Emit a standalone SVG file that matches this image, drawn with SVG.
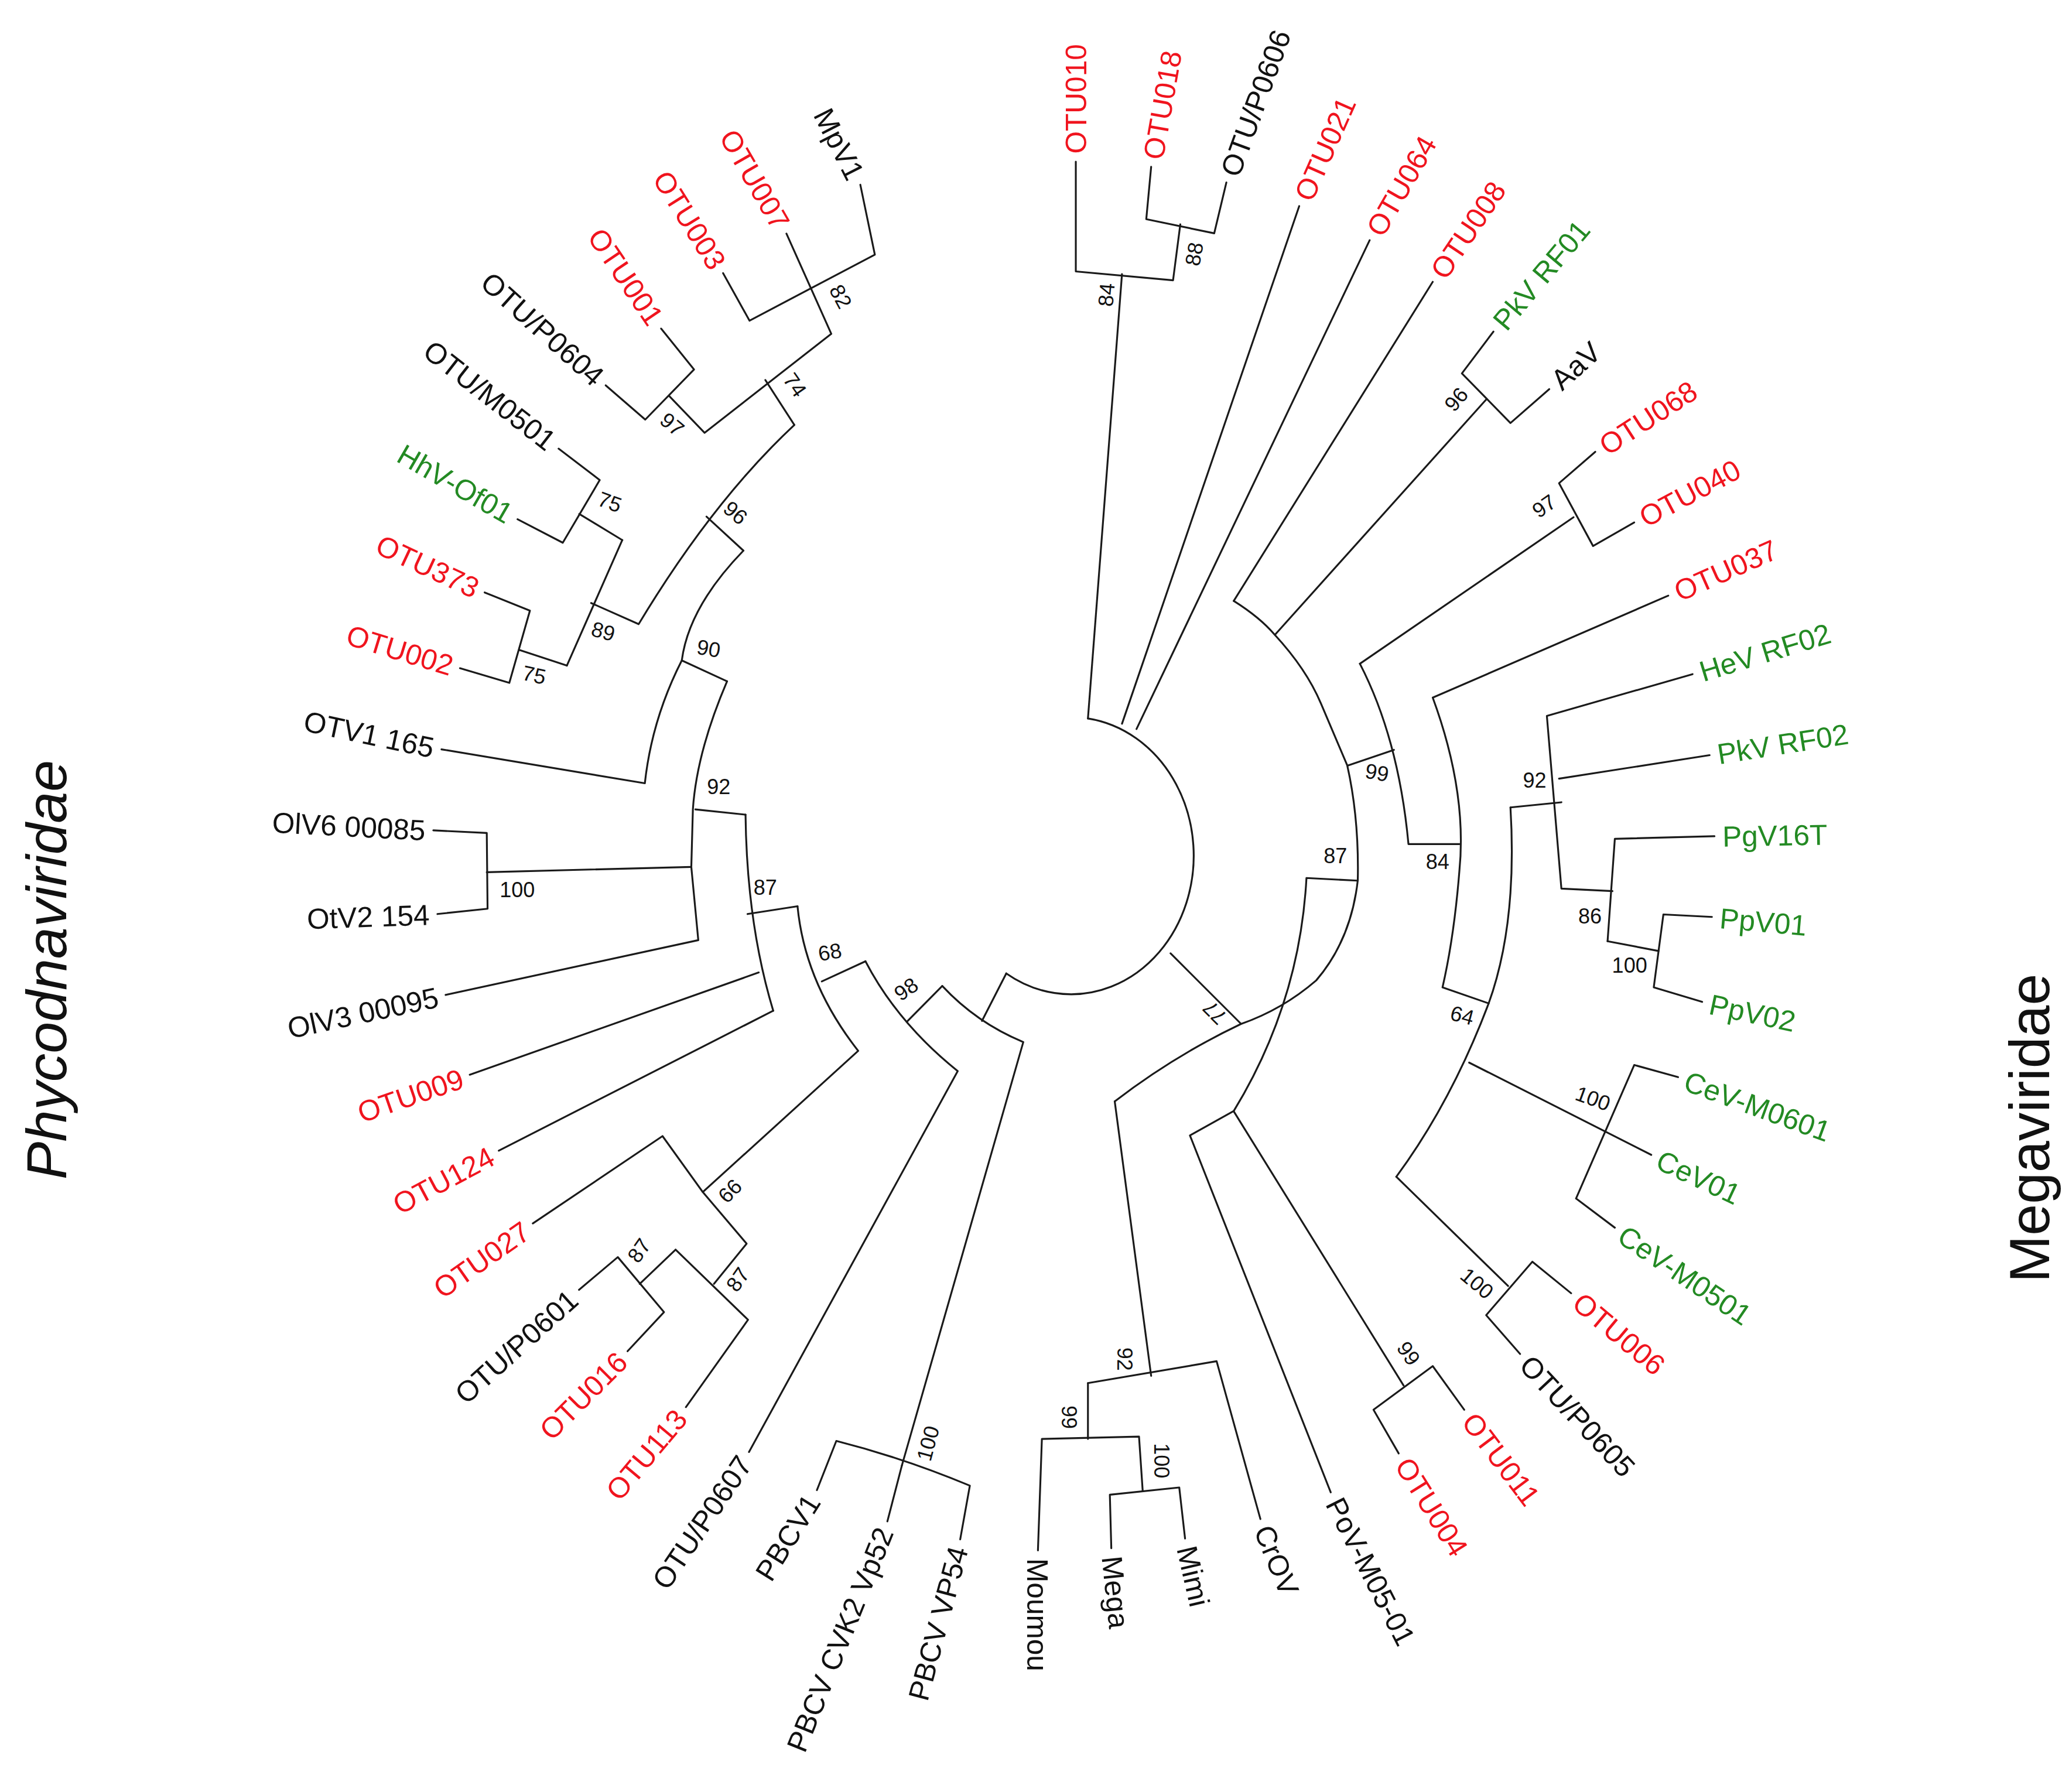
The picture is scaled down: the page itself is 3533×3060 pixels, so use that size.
<svg xmlns="http://www.w3.org/2000/svg" width="3533" height="3060" viewBox="0 0 3533 3060">
<style>
.e{fill:none;stroke:#1a1a1a;stroke-width:1.4;stroke-linejoin:round;stroke-linecap:round}
text{font-family:"Liberation Sans",Arial,sans-serif}
.l{font-size:22px}
.r{fill:#f0141e}.g{fill:#238a23}.k{fill:#111}
.b{font-size:16px;fill:#111;text-anchor:middle}
.s{text-anchor:start}.n{text-anchor:end}
.f{font-size:43px;fill:#111;text-anchor:middle}
</style>
<rect width="3533" height="3060" fill="#fff"/>
<g transform="scale(2.2532)">
<g id="connectors" class="e">
<path d="M824.5,544.5 A93,105 0 1 1 762.6,737.7"/>
<path d="M815.3,122.5 L815.3,205.7 L889,212.4 L894.5,170"/>
<path d="M850.3,207.7 L824.5,544.5"/>
<path d="M872.4,126.4 L868.7,166.1 L920.2,176.8 L929.4,138.3"/>
<path d="M984.6,156.2 L850.3,548.5"/>
<path d="M1038,182 L861.3,552.5"/>
<path d="M1085.8,213.6 L935,455.4"/>
<path d="M1126.3,302.8 L966.2,481.1"/>
<path d="M1131.8,251.3 L1107.9,283 L1144.7,320.6 L1174.1,294.9"/>
<path d="M935,455.4 Q955,468 966,481 Q990,507 1001,533 L1021,580 Q1030,620 1029,667 Q1024,712 997.5,743 Q972,765 940.5,776 Q890,800 844.8,834.7"/>
<path d="M887.1,722.5 L940.5,775.9"/>
<path d="M1021.4,580.2 L1056.4,568.3"/>
<path d="M1030.6,503 Q1060,560 1067.4,639.7 L1106,639.7"/>
<path d="M1030.6,503 L1192.5,392"/>
<path d="M1209,342.4 L1181.5,366.2 L1207.3,413.8 L1238.5,395.9"/>
<path d="M1264.3,451.4 L1085.8,528.7 Q1112,600 1106,660 Q1102,710 1093.2,748.3 L1128.2,760.4"/>
<path d="M1144.7,611.9 Q1150,700 1128.2,760.4 Q1100,835 1058.2,891.8"/>
<path d="M1144.7,611.9 L1183.3,608"/>
<path d="M1282.7,510.9 L1172.3,542.6 L1183.3,673.4 L1222,675.3"/>
<path d="M1295.6,572.3 L1181.5,590.1"/>
<path d="M1299.3,633.7 L1223.8,635.7 L1218.3,713.3"/>
<path d="M1218.3,713.3 L1256.9,720.7"/>
<path d="M1297.4,694.9 L1260.6,693 L1253.3,748.3 L1290,759.3"/>
<path d="M1113.4,805.3 L1251.4,875.2"/>
<path d="M1271.7,816.3 L1238.5,807.1 L1194.4,908.3 L1223.8,930.4"/>
<path d="M1058.2,891.8 L1142.9,974.6"/>
<path d="M1190.7,980.1 L1161.3,956.2 L1126.3,996.7 L1152,1026.1"/>
<path d="M1028.8,667.4 L990.1,665.4 Q985,760 935,842 L901.8,860.5 L1008.5,1131"/>
<path d="M934.9,842.1 L1063.7,1050"/>
<path d="M1060,1101.5 L1040.9,1068.4 L1085.8,1035.3 L1109.7,1068.4"/>
<path d="M844.8,834.7 L872.4,1042.7"/>
<path d="M824.5,1048.2 L922,1031.6 L955.2,1151.2"/>
<path d="M824.5,1048.2 L824.5,1090.5"/>
<path d="M786.6,1175 L789.6,1090.5 L863.2,1088.7 L866,1130"/>
<path d="M842.2,1173.3 L841.1,1132.8 L893.7,1127.3 L898.1,1166"/>
<path d="M762.6,737.7 L744.2,773.7"/>
<path d="M714.1,747.2 Q740,775 775.5,789.7 L683.5,1110.6"/>
<path d="M619.1,1129.3 L633.8,1092 Q685,1105 735,1125.9 L727.7,1166.6"/>
<path d="M672.5,1153 L683.5,1110.6"/>
<path d="M655.9,728.5 Q680,775 725.8,811.7 L567.6,1100.4"/>
<path d="M687.2,774.4 L714.1,747.2"/>
<path d="M604.4,686.8 Q610,745 650.4,796.4 L532.6,903.4"/>
<path d="M622.8,743.8 L655.9,728.5"/>
<path d="M565,617.4 Q566,700 586,766"/>
<path d="M566.5,692.7 L604.4,686.8"/>
<path d="M356,814.5 L575,737"/>
<path d="M378,872 L586,766"/>
<path d="M403.8,927.2 L502.1,861 L532.6,903.4 L565.8,942.5 L541.1,973"/>
<path d="M519.8,1066.4 L566.9,1000.2 L512,947 L484.8,973"/>
<path d="M438.8,977.5 L468.2,952.7 L503.2,994.4 L475.6,1024"/>
<path d="M527,613.4 L565,617.4"/>
<path d="M551,516.3 Q528,570 525.1,613.4 L523.9,657 L529.2,712.5 L337.7,754"/>
<path d="M523.9,657 L368.9,661"/>
<path d="M328.4,629.3 L368.9,631.3 L369.5,688.7 L331.5,692.7"/>
<path d="M516.7,500.5 L551,516.3"/>
<path d="M563.4,417.3 Q522,460 516.7,500.5 Q494,545 488.7,593.6 L334.6,567.9"/>
<path d="M535.4,391.5 L563.4,417.3"/>
<path d="M602,322 Q540,380 484,473 L448,457"/>
<path d="M580,288 L602,322"/>
<path d="M471.6,409.3 L429.6,504.4"/>
<path d="M471.6,409.3 L439,389.5"/>
<path d="M423.3,340 L454.5,363.8 L426.5,411.3 L392.2,393.5"/>
<path d="M367.3,449 L401.6,462.8 L386,517.5 L348.6,506.4"/>
<path d="M393.8,492.6 L429.6,504.4"/>
<path d="M501,249 L526,280 L489,318 L459,292"/>
<path d="M507,300 L534,328 L630,253 L596,177"/>
<path d="M652,140 L663,193 L568,243 L548,207"/>
</g>
<g id="leaves" class="l">
<g id="n-OTU010"><text class="s r" transform="translate(815.3,122.5) rotate(-90)" x="6" y="8">OTU010</text></g>
<g id="n-OTU018"><text class="s r" transform="translate(872.4,126.4) rotate(-80)" x="6" y="8">OTU018</text></g>
<g id="n-OTUP0606"><text class="s k" transform="translate(929.4,138.3) rotate(-70)" x="6" y="8">OTU/P0606</text></g>
<g id="n-OTU021"><text class="s r" transform="translate(984.6,156.2) rotate(-66)" x="6" y="8">OTU021</text></g>
<g id="n-OTU064"><text class="s r" transform="translate(1038,182) rotate(-60)" x="6" y="8">OTU064</text></g>
<g id="n-OTU008"><text class="s r" transform="translate(1085.8,213.6) rotate(-56)" x="6" y="8">OTU008</text></g>
<g id="n-PkVRF01"><text class="s g" transform="translate(1131.8,251.3) rotate(-50)" x="6" y="8">PkV RF01</text></g>
<g id="n-AaV"><text class="s k" transform="translate(1174.1,294.9) rotate(-42)" x="6" y="8">AaV</text></g>
<g id="n-OTU068"><text class="s r" transform="translate(1209,342.4) rotate(-33)" x="6" y="8">OTU068</text></g>
<g id="n-OTU040"><text class="s r" transform="translate(1238.5,395.9) rotate(-28)" x="6" y="8">OTU040</text></g>
<g id="n-OTU037"><text class="s r" transform="translate(1264.3,451.4) rotate(-24)" x="6" y="8">OTU037</text></g>
<g id="n-HeVRF02"><text class="s g" transform="translate(1282.7,510.9) rotate(-17)" x="6" y="8">HeV RF02</text></g>
<g id="n-PkVRF02"><text class="s g" transform="translate(1295.6,572.3) rotate(-9)" x="6" y="8">PkV RF02</text></g>
<g id="n-PgV16T"><text class="s g" transform="translate(1299.3,633.7) rotate(-1)" x="6" y="8">PgV16T</text></g>
<g id="n-PpV01"><text class="s g" transform="translate(1297.4,694.9) rotate(5)" x="6" y="8">PpV01</text></g>
<g id="n-PpV02"><text class="s g" transform="translate(1290,759.3) rotate(12)" x="6" y="8">PpV02</text></g>
<g id="n-CeVM0601"><text class="s g" transform="translate(1271.7,816.3) rotate(20)" x="6" y="8">CeV-M0601</text></g>
<g id="n-CeV01"><text class="s g" transform="translate(1251.4,875.2) rotate(25)" x="6" y="8">CeV01</text></g>
<g id="n-CeVM0501"><text class="s g" transform="translate(1223.8,930.4) rotate(34)" x="6" y="8">CeV-M0501</text></g>
<g id="n-OTU006"><text class="s r" transform="translate(1190.7,980.1) rotate(40)" x="6" y="8">OTU006</text></g>
<g id="n-OTUP0605"><text class="s k" transform="translate(1152,1026.1) rotate(47)" x="6" y="8">OTU/P0605</text></g>
<g id="n-OTU011"><text class="s r" transform="translate(1109.7,1068.4) rotate(53)" x="6" y="8">OTU011</text></g>
<g id="n-OTU004"><text class="s r" transform="translate(1060,1101.5) rotate(58)" x="6" y="8">OTU004</text></g>
<g id="n-PoV"><text class="s k" transform="translate(1008.5,1131) rotate(63)" x="6" y="8">PoV-M05-01</text></g>
<g id="n-CrOV"><text class="s k" transform="translate(955.2,1151.2) rotate(68)" x="6" y="8">CrOV</text></g>
<g id="n-Mimi"><text class="s k" transform="translate(898.1,1166) rotate(77)" x="6" y="8">Mimi</text></g>
<g id="n-Mega"><text class="s k" transform="translate(842.2,1173.3) rotate(84)" x="6" y="8">Mega</text></g>
<g id="n-Moumou"><text class="s k" transform="translate(786.6,1175) rotate(90)" x="6" y="8">Moumou</text></g>
<g id="n-PBCVVP54"><text class="n k" transform="translate(727.7,1166.6) rotate(-75)" x="-6" y="8">PBCV VP54</text></g>
<g id="n-PBCVCVK2"><text class="n k" transform="translate(672.5,1153) rotate(-68)" x="-6" y="8">PBCV CVK2 Vp52</text></g>
<g id="n-PBCV1"><text class="n k" transform="translate(619.1,1129.3) rotate(-58)" x="-6" y="8">PBCV1</text></g>
<g id="n-OTUP0607"><text class="n k" transform="translate(567.6,1100.4) rotate(-56)" x="-6" y="8">OTU/P0607</text></g>
<g id="n-OTU113"><text class="n r" transform="translate(519.8,1066.4) rotate(-50)" x="-6" y="8">OTU113</text></g>
<g id="n-OTU016"><text class="n r" transform="translate(475.6,1024) rotate(-45)" x="-6" y="8">OTU016</text></g>
<g id="n-OTUP0601"><text class="n k" transform="translate(438.8,977.5) rotate(-42)" x="-6" y="8">OTU/P0601</text></g>
<g id="n-OTU027"><text class="n r" transform="translate(403.8,927.2) rotate(-35)" x="-6" y="8">OTU027</text></g>
<g id="n-OTU124"><text class="n r" transform="translate(378,872) rotate(-28)" x="-6" y="8">OTU124</text></g>
<g id="n-OTU009"><text class="n r" transform="translate(356,814.5) rotate(-19)" x="-6" y="8">OTU009</text></g>
<g id="n-OlV3"><text class="n k" transform="translate(337.7,754) rotate(-12)" x="-6" y="8">OlV3 00095</text></g>
<g id="n-OtV2"><text class="n k" transform="translate(331.5,692.7) rotate(-2)" x="-6" y="8">OtV2 154</text></g>
<g id="n-OlV6"><text class="n k" transform="translate(328.4,629.3) rotate(3)" x="-6" y="8">OlV6 00085</text></g>
<g id="n-OTV1"><text class="n k" transform="translate(334.6,567.9) rotate(12)" x="-6" y="8">OTV1 165</text></g>
<g id="n-OTU002"><text class="n r" transform="translate(348.6,506.4) rotate(17)" x="-6" y="8">OTU002</text></g>
<g id="n-OTU373"><text class="n r" transform="translate(367.3,449) rotate(25)" x="-6" y="8">OTU373</text></g>
<g id="n-HhV"><text class="n g" transform="translate(392.2,393.5) rotate(30)" x="-6" y="8">HhV-Of01</text></g>
<g id="n-OTUM0501"><text class="n k" transform="translate(423.3,340) rotate(38)" x="-6" y="8">OTU/M0501</text></g>
<g id="n-OTUP0604"><text class="n k" transform="translate(459,292) rotate(42)" x="-6" y="8">OTU/P0604</text></g>
<g id="n-OTU001"><text class="n r" transform="translate(501,249) rotate(56)" x="-6" y="8">OTU001</text></g>
<g id="n-OTU003"><text class="n r" transform="translate(548,207) rotate(58)" x="-6" y="8">OTU003</text></g>
<g id="n-OTU007"><text class="n r" transform="translate(596,177) rotate(60)" x="-6" y="8">OTU007</text></g>
<g id="n-MpV1"><text class="n k" transform="translate(652,140) rotate(63)" x="-6" y="8">MpV1</text></g>
</g>
<g id="support">
<text class="b" transform="translate(636.6,225) rotate(62)" y="5">82</text>
<text class="b" transform="translate(602,292) rotate(55)" y="5">74</text>
<text class="b" transform="translate(509,322) rotate(40)" y="5">97</text>
<text class="b" transform="translate(557,389) rotate(40)" y="5">96</text>
<text class="b" transform="translate(462,381) rotate(20)" y="5">75</text>
<text class="b" transform="translate(457,479) rotate(15)" y="5">89</text>
<text class="b" transform="translate(404.7,512) rotate(12)" y="5">75</text>
<text class="b" transform="translate(537,492) rotate(10)" y="5">90</text>
<text class="b" transform="translate(544.7,597)" y="5">92</text>
<text class="b" transform="translate(392,675)" y="5">100</text>
<text class="b" transform="translate(580,673)" y="5">87</text>
<text class="b" transform="translate(629,722) rotate(-10)" y="5">68</text>
<text class="b" transform="translate(687,750) rotate(-35)" y="5">98</text>
<text class="b" transform="translate(553.6,903) rotate(-45)" y="5">66</text>
<text class="b" transform="translate(559.5,970) rotate(-55)" y="5">87</text>
<text class="b" transform="translate(484.8,948) rotate(-55)" y="5">87</text>
<text class="b" transform="translate(703.8,1094) rotate(-75)" y="5">100</text>
<text class="b" transform="translate(852,1030) rotate(90)" y="5">92</text>
<text class="b" transform="translate(809.8,1074) rotate(90)" y="5">99</text>
<text class="b" transform="translate(879.7,1107) rotate(90)" y="5">100</text>
<text class="b" transform="translate(921,767) rotate(-135)" y="5">77</text>
<text class="b" transform="translate(1012,649)" y="5">87</text>
<text class="b" transform="translate(1043.5,586) rotate(10)" y="5">99</text>
<text class="b" transform="translate(1089.5,653.5)" y="5">84</text>
<text class="b" transform="translate(1170.5,384) rotate(-35)" y="5">97</text>
<text class="b" transform="translate(1104,303) rotate(-50)" y="5">96</text>
<text class="b" transform="translate(1163,592)" y="5">92</text>
<text class="b" transform="translate(1205,695)" y="5">86</text>
<text class="b" transform="translate(1235,732)" y="5">100</text>
<text class="b" transform="translate(1108,770) rotate(15)" y="5">64</text>
<text class="b" transform="translate(1207,833) rotate(20)" y="5">100</text>
<text class="b" transform="translate(1119,973) rotate(40)" y="5">100</text>
<text class="b" transform="translate(1067,1026) rotate(55)" y="5">99</text>
<text class="b" transform="translate(839,223.5) rotate(-85)" y="5">84</text>
<text class="b" transform="translate(905.5,192.6) rotate(-80)" y="5">88</text>
</g>
<g id="families">
<text class="f" font-style="italic" transform="translate(50,735) rotate(-90)">Phycodnaviridae</text>
<text class="f" transform="translate(1553,855) rotate(-90)">Megaviridae</text>
</g>
</g>
</svg>
